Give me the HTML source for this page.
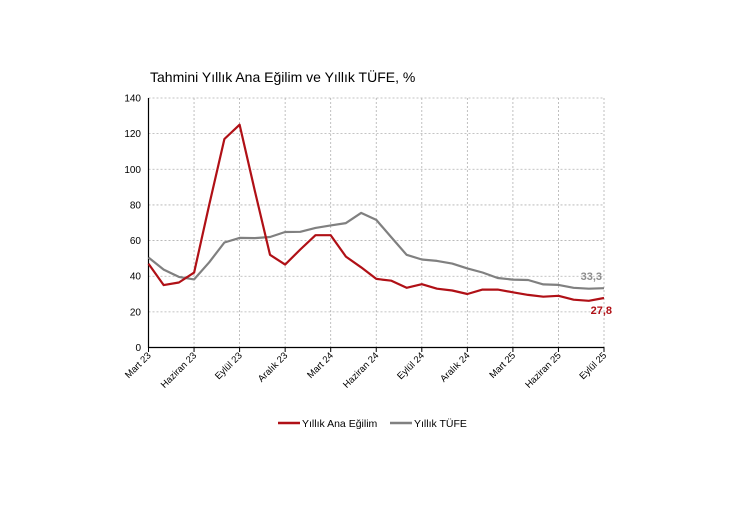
<!DOCTYPE html>
<html><head><meta charset="utf-8"><style>
html,body{margin:0;padding:0;background:#fff;width:752px;height:506px;overflow:hidden}
svg text{font-family:"Liberation Sans","DejaVu Sans",sans-serif}
</style></head><body>
<svg id="c" width="752" height="506" xmlns="http://www.w3.org/2000/svg">
<text x="150" y="82" font-size="14" fill="#000">Tahmini Yıllık Ana Eğilim ve Yıllık TÜFE, %</text>
<g id="grid"></g>
<line x1="148.5" y1="98" x2="148.5" y2="348" stroke="#000" stroke-width="1.2"/>
<line x1="148.5" y1="347.5" x2="604" y2="347.5" stroke="#000" stroke-width="1.2"/>
<g id="ticks" font-size="10" fill="#000"></g>
<polyline id="gray" fill="none" stroke="#808080" stroke-width="2.2" stroke-linejoin="round"/>
<polyline id="red" fill="none" stroke="#b01016" stroke-width="2.2" stroke-linejoin="round"/>
<text x="602" y="280" font-size="11" font-weight="bold" fill="#8c8c8c" text-anchor="end">33,3</text>
<text x="612" y="314" font-size="11" font-weight="bold" fill="#b01016" text-anchor="end">27,8</text>
<line x1="278" y1="423" x2="300" y2="423" stroke="#b01016" stroke-width="2.5"/>
<text x="302" y="427" font-size="10.5">Yıllık Ana Eğilim</text>
<line x1="390" y1="423" x2="412" y2="423" stroke="#808080" stroke-width="2.5"/>
<text x="414" y="427" font-size="10.5">Yıllık TÜFE</text>
</svg>
<script>
var x0=148.5,x1=604,y0=347.5,k=249.5/140,st=(x1-x0)/30;
var red=[47,35,36.5,42,80,117,125,88,52,46.5,55,63,63,51,45,38.5,37.5,33.5,35.5,33,32,30,32.5,32.5,31,29.5,28.5,29,26.8,26.2,27.8];
var gray=[50.5,43.7,39.6,38.2,47.8,58.9,61.5,61.4,62,64.8,64.9,67.1,68.5,69.8,75.5,71.6,61.8,52,49.4,48.6,47.1,44.4,42.1,39,38.1,37.9,35.4,35.1,33.5,33,33.3];
function pts(a){return a.map(function(v,i){return (x0+i*st).toFixed(1)+","+(y0-v*k).toFixed(1)}).join(" ")}
document.getElementById("red").setAttribute("points",pts(red));
document.getElementById("gray").setAttribute("points",pts(gray));
var g="",t="";
for(var v=20;v<=140;v+=20){var y=y0-v*k;g+='<line x1="148.5" y1="'+y+'" x2="604" y2="'+y+'" stroke="#b0b0b0" stroke-width="0.8" stroke-dasharray="2,2"/>';}
for(var v=0;v<=140;v+=20){var y=y0-v*k;t+='<text x="141" y="'+(y+3.5)+'" text-anchor="end">'+v+'</text>';}
var labs=["Mart 23","Haziran 23","Eylül 23","Aralık 23","Mart 24","Haziran 24","Eylül 24","Aralık 24","Mart 25","Haziran 25","Eylül 25"];
for(var i=0;i<11;i++){var x=x0+i*3*st;if(i>0)g+='<line x1="'+x+'" y1="98" x2="'+x+'" y2="347" stroke="#b0b0b0" stroke-width="0.8" stroke-dasharray="2,2"/>';
t+='<line x1="'+x+'" y1="347" x2="'+x+'" y2="352" stroke="#000"/>';
t+='<text transform="translate('+(x+3)+',356) rotate(-45)" text-anchor="end" font-size="9.5">'+labs[i]+'</text>';}
document.getElementById("grid").innerHTML=g;document.getElementById("ticks").innerHTML=t;
</script>
</body></html>
